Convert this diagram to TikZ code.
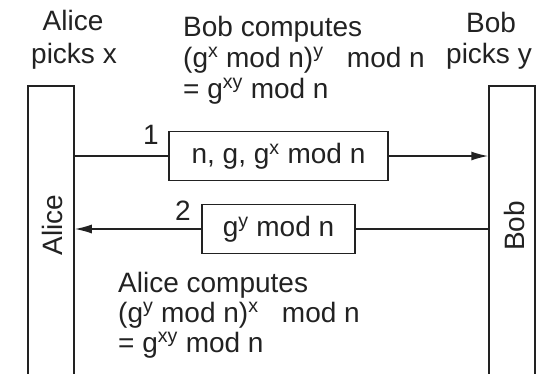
\documentclass[tikz,border=0pt]{standalone}
\usepackage{fontspec}
\setmainfont{Liberation Sans}
\usetikzlibrary{arrows.meta}
\newcommand\sps[1]{\textsuperscript{#1}}
\definecolor{ink}{HTML}{222222}
\tikzset{
  x=1pt, y=-1pt,
  every node/.style={text=ink, font=\fontsize{28}{31}\selectfont},
  party/.style={draw=ink, line width=1.5pt, minimum width=46pt, minimum height=310pt, inner sep=0pt},
  msg/.style={draw=ink, line width=1.5pt, minimum height=49pt, inner sep=0pt},
  wire/.style={draw=ink, line width=1.5pt},
  tip/.style={-{Latex[length=17pt,width=9pt]}},
  textline/.style={anchor=base west, inner sep=0pt},
  headline/.style={anchor=base, inner sep=0pt},
}
\begin{document}
\begin{tikzpicture}
\useasboundingbox (0,0) rectangle (542,373);
\clip (0,0) rectangle (542,373);
\fill[white] (0,0) rectangle (542,373);

% the two parties
\node[party, anchor=north] (alice) at (51,85) {};
\node[party, anchor=north] (bob) at (512,85) {};
\node[rotate=90] (alicename) at (52,225) {Alice};
\node[rotate=90] (bobname) at (514,226) {Bob};

% headings
\node[headline] (apick1) at (73,30) {Alice};
\node[headline] (apick2) at (74,63) {picks x};
\node[headline] (bpick1) at (491,32) {Bob};
\node[headline] (bpick2) at (489,63) {picks y};

% Bob's computation
\node[textline] (bcomp1) at (183,36) {Bob computes};
\node[textline] (bcomp2) at (183,67) {(g\sps{x} mod n)\sps{y}\ \ \ mod n};
\node[textline] (bcomp3) at (183,98) {= g\sps{xy} mod n};

% Alice's computation
\node[textline] (acomp1) at (118,292) {Alice computes};
\node[textline] (acomp2) at (118,322) {(g\sps{y} mod n)\sps{x}\ \ \ mod n};
\node[textline] (acomp3) at (118,352) {= g\sps{xy} mod n};

% message 1
\node[msg, minimum width=219pt] (m1) at (278.5,156) {n, g, g\sps{x} mod n};
\node (n1) at (151,135) {1};
\draw[wire] (alice.east |- m1) -- (m1.west);
\draw[wire, tip] (m1.east) -- (bob.west |- m1);

% message 2
\node[msg, minimum width=153pt] (m2) at (278.5,229) {g\sps{y} mod n};
\node (n2) at (183,211) {2};
\draw[wire] (bob.west |- m2) -- (m2.east);
\draw[wire, tip] (m2.west) -- (alice.east |- m2);
\end{tikzpicture}
\end{document}
